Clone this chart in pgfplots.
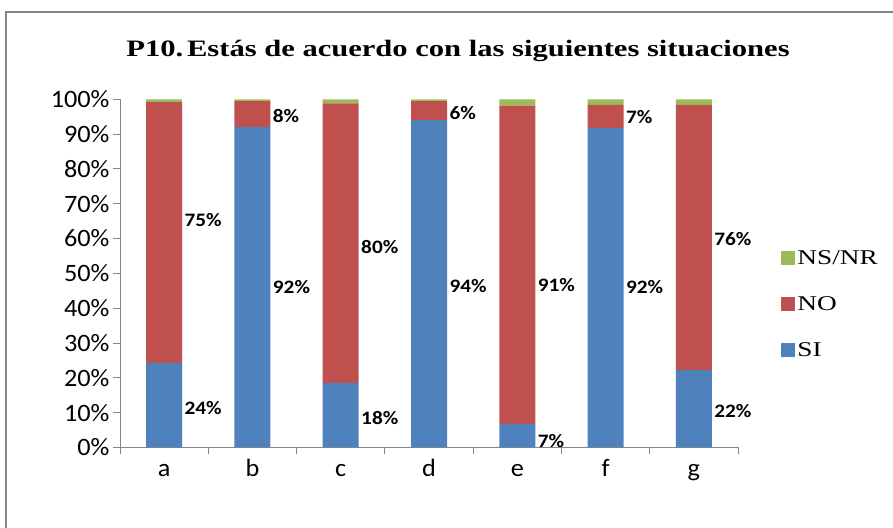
\documentclass[border=0pt]{standalone}
\usepackage{fontspec}
\usepackage{pgfplots}
\pgfplotsset{compat=1.18}
\newfontfamily\calib[FakeStretch=1.05]{Carlito}
\newfontfamily\calibb[FakeStretch=1.12]{Carlito}
\newfontfamily\camb[FakeStretch=1.3]{Liberation Serif}
\newfontfamily\cambt[FakeStretch=1.3]{Liberation Serif}
\definecolor{siblue}{RGB}{79,129,189}
\definecolor{nored}{RGB}{192,80,77}
\definecolor{nsgreen}{RGB}{155,187,89}
\definecolor{axgray}{RGB}{134,134,134}

\pgfplotstableread{
x si no ns
0 24.3 74.9 0.8
1 92.0 7.5 0.5
2 18.5 80.3 1.2
3 94.0 5.5 0.5
4 6.8 91.4 1.8
5 91.8 6.6 1.6
6 22.3 76.1 1.6
}\datatab

\pgfplotstableread{
x y lab
0.23 11.3 24
0.23 65.4 75
1.23 46.1 92
1.23 95.2 8
2.23 8.5 18
2.23 57.6 80
3.23 46.4 94
3.23 96.1 6
4.23 1.9 7
4.23 46.7 91
5.23 46.1 92
5.23 95.0 7
6.23 10.5 22
6.23 59.9 76
}\labtab

\begin{document}
\begin{tikzpicture}
\useasboundingbox (0pt,0pt) rectangle (893pt,527pt);
\draw[line width=2pt, color=axgray] (6pt,-20pt) -- (6pt,515pt) -- (920pt,515pt);
\node[font=\cambt\bfseries\fontsize{23.5}{28}\selectfont] at (458pt,476pt) {P10.\,Estás de acuerdo con las siguientes situaciones};

\begin{axis}[
  at={(120pt,79.5pt)}, anchor=south west,
  width=618pt, height=348.2pt, scale only axis,
  xmin=-0.5, xmax=6.5, ymin=0, ymax=100,
  ybar stacked, bar width=36pt,
  axis x line*=bottom, axis y line*=left,
  axis line style={-, draw=axgray, line width=1pt},
  tick align=outside,
  major tick length=7pt,
  tick style={draw=axgray, line width=1pt},
  /pgf/number format/assume math mode=true,
  ytick={0,10,...,100},
  yticklabel={\pgfmathprintnumber{\tick}\%},
  yticklabel style={font=\calib\fontsize{25}{29}\selectfont},
  xtick={-0.5,0.5,1.5,2.5,3.5,4.5,5.5,6.5},
  xticklabels={a,b,c,d,e,f,g,{}},
  xticklabel style={font=\calib\fontsize{25}{29}\selectfont, text height=17pt, text depth=0pt, xshift=44.14pt, yshift=-1pt},
  reverse legend,
  legend style={at={(axis description cs:1.07,0.412)}, anchor=west, draw=none, inner sep=0pt,
    font=\camb\fontsize{21}{24}\selectfont, row sep=26.5pt,
    /tikz/every odd column/.append style={column sep=0pt}},
  legend cell align=left,
  legend image code/.code={\path[#1, draw=none] (0pt,-7pt) rectangle (14pt,7pt);},
]
\addplot[fill=siblue, draw=none] table[x=x, y=si] {\datatab};
\addplot[fill=nored, draw=none] table[x=x, y=no] {\datatab};
\addplot[fill=nsgreen, draw=none] table[x=x, y=ns] {\datatab};
\legend{SI,NO,NS/NR}
\end{axis}

\begin{axis}[
  at={(120pt,79.5pt)}, anchor=south west,
  width=618pt, height=348.2pt, scale only axis,
  xmin=-0.5, xmax=6.5, ymin=0, ymax=100,
  hide axis, clip=false,
]
\addplot[draw=none, mark=none,
  point meta=explicit symbolic,
  nodes near coords={\pgfplotspointmeta\%},
  nodes near coords align=center,
  every node near coord/.append style={anchor=west, inner sep=0pt, font=\calibb\bfseries\fontsize{19}{22}\selectfont}]
  table[x=x, y=y, meta=lab] {\labtab};
\end{axis}
\end{tikzpicture}
\end{document}
